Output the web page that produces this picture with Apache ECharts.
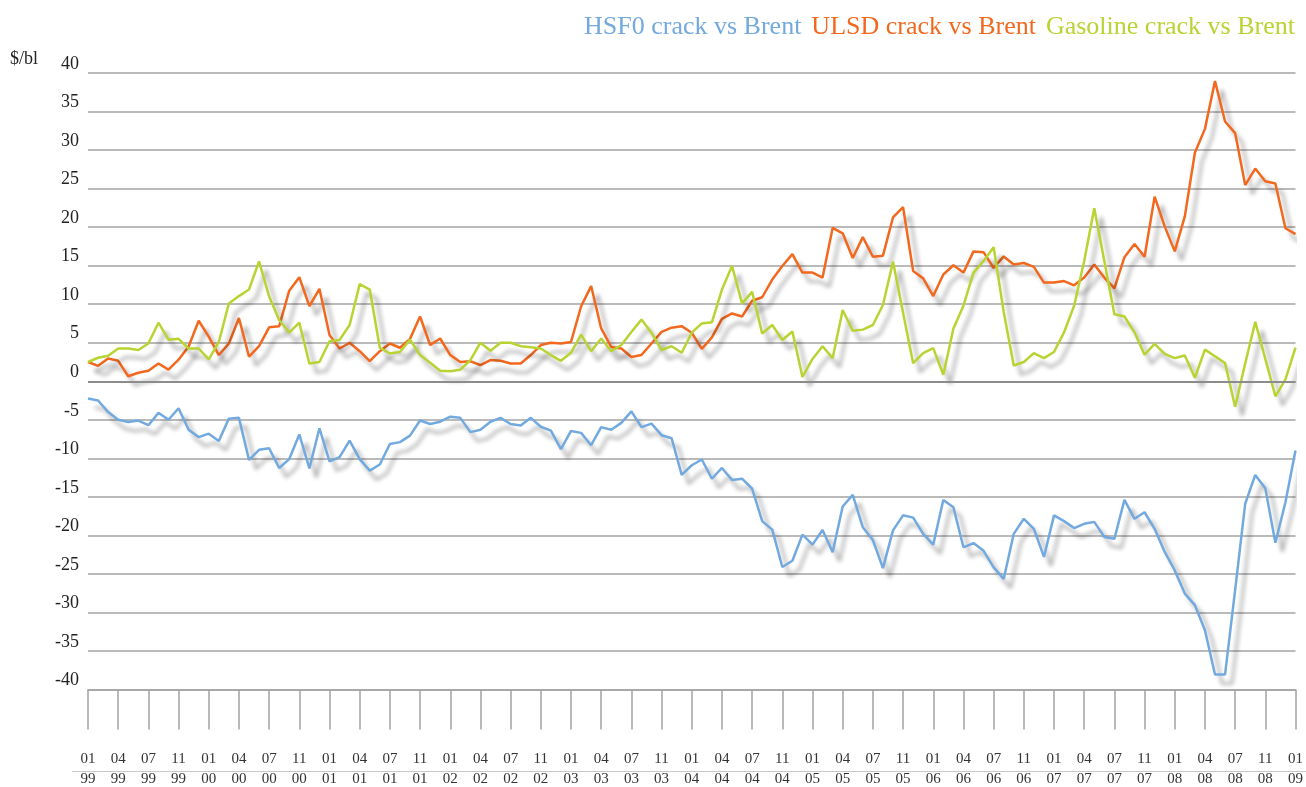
<!DOCTYPE html>
<html>
<head>
<meta charset="utf-8">
<title>Cracks vs Brent</title>
<script src="https://cdn.jsdelivr.net/npm/echarts@6/dist/echarts.min.js"></script>
<style>
  html, body { margin: 0; padding: 0; background: #fff; }
  #chart { width: 1306px; height: 787px; }
</style>
</head>
<body>
<div id="chart"></div>
<script>
// monthly, Jan 1999 .. Jan 2009
var startYear = 1999;
var monthCount = 121;

// tick labels under the axis (every 3rd month)
var tickMonths = ['01', '04', '07', '11'];
var tickYears = ['99', '00', '01', '02', '03', '04', '05', '06', '07', '08', '09'];

var hsfo = [
    -2.25, -2.5, -4.0, -5.0, -5.3, -5.1, -5.7, -4.1, -5.0, -3.5,
    -6.3, -7.25, -6.8, -7.75, -4.85, -4.75, -10.2, -8.9, -8.7, -11.25,
    -10.1, -6.9, -11.3, -6.1, -10.4, -9.85, -7.7, -10.1, -11.6, -10.8,
    -8.15, -7.9, -7.05, -5.1, -5.55, -5.25, -4.6, -4.75, -6.6, -6.3,
    -5.25, -4.75, -5.55, -5.75, -4.75, -5.9, -6.4, -8.8, -6.45, -6.7,
    -8.3, -5.95, -6.3, -5.4, -3.9, -5.95, -5.5, -7.0, -7.4, -12.15,
    -10.9, -10.15, -12.65, -11.25, -12.8, -12.65, -13.95, -18.15, -19.25, -24.1,
    -23.3, -19.9, -21.2, -19.3, -22.2, -16.25, -14.75, -18.95, -20.6, -24.25,
    -19.35, -17.4, -17.7, -19.8, -21.2, -15.4, -16.35, -21.55, -21.0, -22.0,
    -24.15, -25.65, -19.8, -17.85, -19.15, -22.8, -17.4, -18.15, -19.05, -18.5,
    -18.25, -20.2, -20.45, -15.4, -17.85, -17.0, -19.15, -22.15, -24.55, -27.55,
    -29.05, -32.3, -38.05, -38.05, -27.1, -15.9, -12.15, -13.9, -20.95, -15.7,
    -9.0
];
var ulsd = [
    2.5, 2.0, 2.95, 2.65, 0.65, 1.1, 1.35, 2.3, 1.5, 2.8,
    4.5, 7.85, 5.8, 3.4, 4.9, 8.2, 3.2, 4.55, 7.0, 7.15,
    11.75, 13.5, 9.75, 12.0, 6.0, 4.25, 5.0, 3.9, 2.6, 3.9,
    4.9, 4.35, 5.5, 8.4, 4.7, 5.55, 3.4, 2.5, 2.6, 2.1,
    2.75, 2.65, 2.3, 2.3, 3.4, 4.7, 5.0, 4.9, 5.1, 9.7,
    12.35, 6.85, 4.45, 4.25, 3.15, 3.4, 4.9, 6.4, 6.95, 7.15,
    6.3, 4.2, 5.7, 8.1, 8.8, 8.4, 10.45, 10.9, 13.2, 14.95,
    16.5, 14.1, 14.1, 13.45, 19.9, 19.2, 16.0, 18.7, 16.15, 16.3,
    21.25, 22.6, 14.3, 13.35, 11.05, 13.85, 15.05, 14.1, 16.85, 16.75,
    14.7, 16.2, 15.15, 15.35, 14.85, 12.8, 12.8, 13.0, 12.45, 13.45,
    15.15, 13.45, 12.05, 16.1, 17.8, 16.15, 23.95, 20.1, 16.85, 21.4,
    29.65, 32.75, 38.95, 33.7, 32.2, 25.45, 27.6, 25.95, 25.65, 19.85,
    19.1
];
var gasoline = [
    2.5, 3.05, 3.3, 4.25, 4.25, 4.05, 4.9, 7.6, 5.4, 5.5,
    4.25, 4.25, 2.85, 5.1, 10.1, 11.05, 11.9, 15.55, 11.0, 7.95,
    6.3, 7.6, 2.3, 2.5, 5.2, 5.35, 7.3, 12.6, 11.9, 4.35,
    3.6, 3.8, 5.4, 3.4, 2.4, 1.35, 1.3, 1.5, 2.75, 5.0,
    3.95, 5.0, 5.0, 4.55, 4.4, 4.25, 3.4, 2.65, 3.7, 6.05,
    3.9, 5.55, 3.9, 4.7, 6.4, 8.0, 6.3, 4.05, 4.55, 3.7,
    6.3, 7.5, 7.65, 11.9, 14.95, 10.1, 11.6, 6.2, 7.3, 5.35,
    6.45, 0.55, 2.9, 4.55, 3.0, 9.25, 6.55, 6.7, 7.3, 9.9,
    15.5, 8.9, 2.35, 3.65, 4.3, 0.85, 6.8, 9.8, 14.1, 15.6,
    17.4, 9.0, 2.05, 2.5, 3.65, 3.0, 3.8, 6.35, 9.8, 15.6,
    22.45, 15.6, 8.7, 8.4, 6.35, 3.45, 4.85, 3.55, 3.0, 3.35,
    0.45, 4.1, 3.25, 2.35, -3.3, 2.3, 7.7, 2.9, -1.95, 0.25,
    4.35
];

var names = ['HSF0 crack vs Brent', 'ULSD crack vs Brent', 'Gasoline crack vs Brent'];
var colors = ['#72a9de', '#f3681f', '#b7d433'];

var months = [];
for (var i = 0; i < monthCount; i++) {
    var yy = startYear + Math.floor(i / 12);
    var mm = (i % 12) + 1;
    months.push(yy + '-' + (mm < 10 ? '0' + mm : mm));
}

var serif = '"Liberation Serif", "DejaVu Serif", serif';

(function () {
    var myChart = echarts.init(document.getElementById('chart'));

    function lineSeries(name, data, color) {
        return {
            name: name,
            type: 'line',
            data: data,
            symbol: 'none',
            lineStyle: {
                color: color,
                width: 2.5,
                shadowColor: 'rgba(0,0,0,0.33)',
                shadowBlur: 4,
                shadowOffsetX: 7,
                shadowOffsetY: 9
            },
            itemStyle: { color: color }
        };
    }

    var series = [
        lineSeries(names[0], hsfo, colors[0]),
        lineSeries(names[1], ulsd, colors[1]),
        lineSeries(names[2], gasoline, colors[2])
    ];
    // darker zero line
    series[0].markLine = {
        silent: true,
        symbol: 'none',
        label: { show: false },
        lineStyle: { color: '#8c8c8c', width: 2, type: 'solid' },
        data: [{ yAxis: 0 }]
    };

    var option = {
        animation: false,
        legend: {
            top: 9,
            right: 6,
            icon: 'none',
            itemWidth: 0,
            itemHeight: 0,
            itemGap: 5,
            textStyle: { fontFamily: serif, fontSize: 26 },
            data: names.map(function (n, k) {
                return { name: n, textStyle: { color: colors[k] } };
            })
        },
        grid: {
            left: 88,
            right: 9,
            top: 73,
            bottom: 94,
            containLabel: false
        },
        xAxis: {
            type: 'category',
            data: months,
            boundaryGap: false,
            axisLine: { onZero: false, lineStyle: { color: '#a3a3a3', width: 1.5 } },
            axisTick: {
                interval: function (index) { return index % 3 === 0; },
                length: 40,
                lineStyle: { color: '#a3a3a3', width: 1.5 }
            },
            axisLabel: {
                interval: function (index) { return index % 3 === 0; },
                margin: 60,
                formatter: function (value, index) {
                    var k = Math.round(index / 3);
                    return '{m|' + tickMonths[k % 4] + '}\n{y|' + tickYears[Math.floor(k / 4)] + '}';
                },
                rich: {
                    m: { fontFamily: serif, fontSize: 15, color: '#333', lineHeight: 20 },
                    y: { fontFamily: serif, fontSize: 15, color: '#333', lineHeight: 20 }
                }
            },
            splitLine: { show: false }
        },
        yAxis: {
            type: 'value',
            min: -40,
            max: 40,
            interval: 5,
            axisLine: { show: false },
            axisTick: { show: false },
            axisLabel: {
                margin: 9,
                verticalAlign: 'bottom',
                fontFamily: serif,
                fontSize: 18,
                color: '#222'
            },
            splitLine: { lineStyle: { color: '#a3a3a3', width: 1.5 } }
        },
        graphic: [
            {
                type: 'text',
                left: 10,
                top: 50,
                style: { text: '$/bl', font: '18px ' + serif, fill: '#222' }
            },
            {
                // separator between month and year rows
                type: 'line',
                shape: { x1: 72, y1: 771.5, x2: 1306, y2: 771.5 },
                style: { stroke: '#c8c8c8', lineWidth: 1.2 }
            }
        ],
        series: series
    };
    myChart.setOption(option);
    window.addEventListener('resize', function () {
        myChart.resize();
    });
})();
</script>
</body>
</html>
